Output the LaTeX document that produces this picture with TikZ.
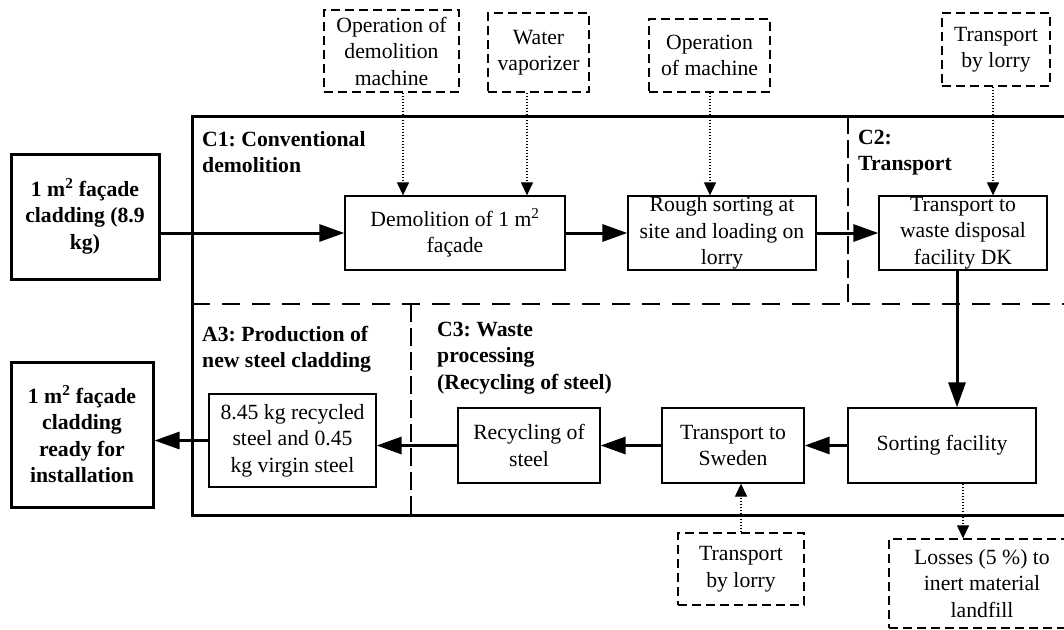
\documentclass[tikz,border=0pt]{standalone}
\usepackage{fontspec}
\setmainfont{Liberation Serif}
\usetikzlibrary{arrows.meta}
\frenchspacing
\begin{document}
\begin{tikzpicture}[x=1pt,y=-1pt,
 txt/.style={font=\fontsize{21.7}{26.5}\selectfont, align=center, inner sep=0pt},
 pbox/.style={txt, draw, line width=1.3pt},
 bbox/.style={txt, draw, line width=3pt, font=\fontsize{21.7}{26.5}\selectfont\bfseries},
 dbox/.style={txt, draw, line width=1.3pt, dash pattern=on 9pt off 5pt},
 lbl/.style={font=\fontsize{21.7}{26.5}\selectfont\bfseries, align=left, inner sep=0pt, anchor=north west},
 flow/.style={line width=3pt, -{Triangle[length=25pt,width=17pt]}},
 aux/.style={line width=1.2pt, dash pattern=on 1.5pt off 1.5pt, -{Triangle[length=13pt,width=12pt]}},
 frame/.style={line width=3pt},
 hdivider/.style={line width=1.1pt, dash pattern=on 18pt off 12pt},
 vdivider/.style={line width=1.1pt, dash pattern=on 18pt off 6pt},
]
\useasboundingbox (0,0) rectangle (1064,629);
\clip (0,0) rectangle (1064,629);

% frame and dividers
\draw[frame] (1080,116) -- (192,116) -- (192,515) -- (1080,515);
\draw[hdivider] (192,304) -- (1080,304);
\draw[vdivider] (848,116) -- (848,304);
\draw[vdivider] (411,304) -- (411,515);

% section labels
\node[lbl] (c1) at (202,131) {C1: Conventional\\demolition};
\node[lbl] (c2) at (858,129.5) {C2:\\Transport};
\node[lbl] (a3) at (202,326) {A3: Production of\\new steel cladding};
\node[lbl] (c3) at (437,321.5) {C3: Waste\\processing\\(Recycling of steel)};

% input / output
\node[bbox, minimum width=148, minimum height=125] (input) at (85,216.5) {1 m\textsuperscript{2} façade\\cladding (8.9\\kg)};
\node[bbox, minimum width=142, minimum height=145] (output) at (82,434.5) {1 m\textsuperscript{2} façade\\cladding\\ready for\\installation};

% auxiliary inputs
\node[dbox, minimum width=135, minimum height=82] (opd) at (391.5,51) {Operation of\\demolition\\machine};
\node[dbox, minimum width=101, minimum height=79] (wat) at (538.5,52.5) {Water\\vaporizer};
\node[dbox, minimum width=121, minimum height=73] (opm) at (709.5,55.5) {Operation\\of machine};
\node[dbox, minimum width=108, minimum height=73] (lorry1) at (996,49.5) {Transport\\by lorry};
\node[dbox, minimum width=126, minimum height=72] (lorry2) at (741,569) {Transport\\by lorry};
\node[dbox, minimum width=186, minimum height=89] (loss) at (982,583.5) {Losses (5 \%) to\\inert material\\landfill};

% processes
\node[pbox, minimum width=220, minimum height=74] (demo) at (455,233) {Demolition of 1 m\textsuperscript{2}\\façade};
\node[pbox, minimum width=188, minimum height=74] (rough) at (722,233) {Rough sorting at\\site and loading on\\lorry};
\node[pbox, minimum width=168, minimum height=74] (trw) at (963,233) {Transport to\\waste disposal\\facility DK};
\node[pbox, minimum width=188, minimum height=75] (sort) at (942,445.5) {Sorting facility};
\node[pbox, minimum width=142, minimum height=75] (swe) at (733,445.5) {Transport to\\Sweden};
\node[pbox, minimum width=142, minimum height=75] (recyc) at (529,445.5) {Recycling of\\steel};
\node[pbox, minimum width=167, minimum height=93] (steel) at (292.5,440.5) {8.45 kg recycled\\steel and 0.45\\kg virgin steel};

% x positions of vertical connectors
\coordinate (xa) at (403,0);
\coordinate (xb) at (527,0);
\coordinate (xc) at (710,0);
\coordinate (xd) at (993,0);
\coordinate (xe) at (957,0);
\coordinate (xf) at (741,0);
\coordinate (xg) at (963,0);

% auxiliary flows
\draw[aux] (opd.south -| xa) -- (demo.north -| xa);
\draw[aux] (wat.south -| xb) -- (demo.north -| xb);
\draw[aux] (opm.south -| xc) -- (rough.north -| xc);
\draw[aux] (lorry1.south -| xd) -- (trw.north -| xd);
\draw[aux] (lorry2.north -| xf) -- (swe.south -| xf);
\draw[aux] (sort.south -| xg) -- (loss.north -| xg);

% main flows
\draw[flow] (input.east |- demo.west) -- (demo.west);
\draw[flow] (demo.east) -- (rough.west);
\draw[flow] (rough.east) -- (trw.west);
\draw[flow] (trw.south -| xe) -- (sort.north -| xe);
\draw[flow] (sort.west) -- (swe.east);
\draw[flow] (swe.west) -- (recyc.east);
\draw[flow] (recyc.west) -- (steel.east |- recyc.west);
\draw[flow] (steel.west) -- (output.east |- steel.west);
\end{tikzpicture}
\end{document}
